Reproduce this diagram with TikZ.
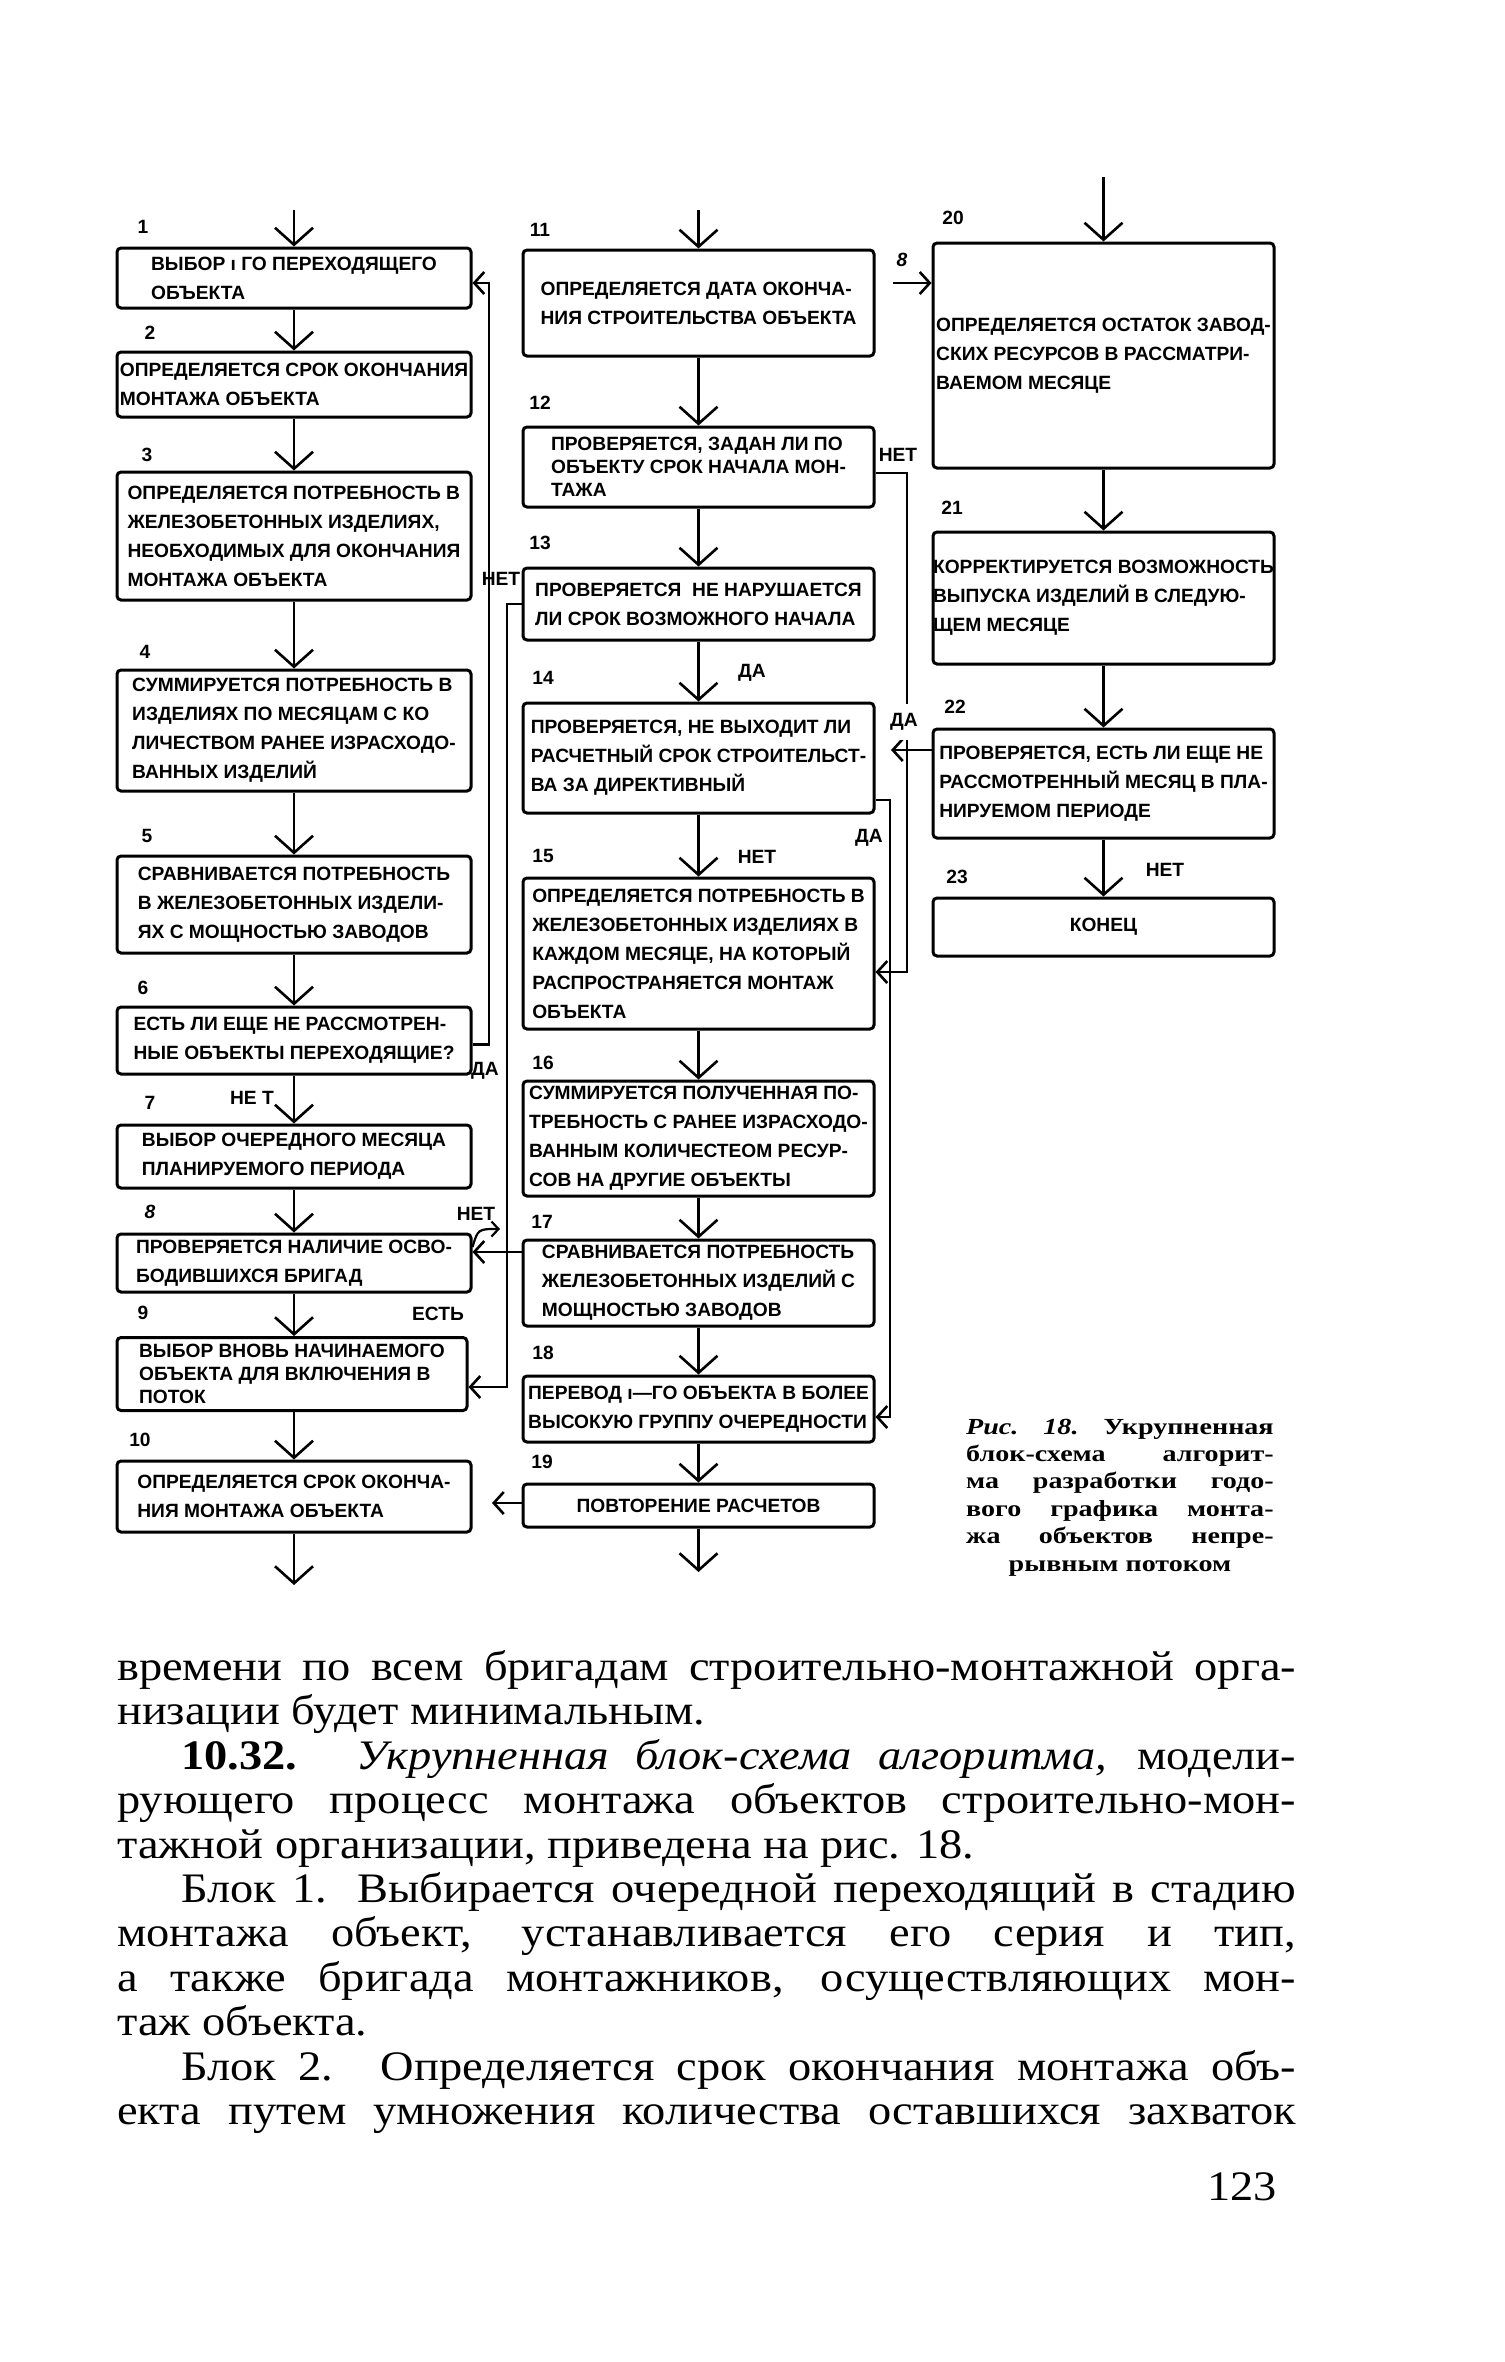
\documentclass[tikz,border=0pt]{standalone}
\usepackage{fontspec}
\usepackage{graphicx}
\setmainfont{Liberation Serif}
\newfontfamily\sansbf{Liberation Sans}
\usetikzlibrary{arrows.meta}
\newcommand\boxfnt{\sansbf\bfseries\fontsize{19.2}{29}\selectfont}
\newcommand\boxfnttight{\sansbf\bfseries\fontsize{19.2}{23}\selectfont}
\newcommand\bodyfnt{\fontsize{42}{44}\selectfont}
\newcommand\capfnt{\bfseries\fontsize{23}{27}\selectfont}
\newcommand\jl[2]{\scalebox{1.105}[1]{\makebox[#1][s]{#2}}}
\newcommand\nl[1]{\scalebox{1.105}[1]{#1}}
\newcommand\cj[1]{\scalebox{1.22}[1]{\makebox[252pt][s]{#1}}}
\begin{document}
\begin{tikzpicture}[x=1pt,y=-1pt,
  box/.style={draw, line width=3pt, rounded corners=4pt, align=left, inner sep=0pt, font=\boxfnt},
  num/.style={font=\boxfnt, inner sep=0pt},
  flow/.style={line width=2.6pt, -{Straight Barb[length=17pt,width=38pt,line width=2.6pt]}},
  side/.style={line width=2.6pt, -{Straight Barb[length=10pt,width=22pt,line width=2.6pt]}},
  bodytxt/.style={anchor=base west, inner sep=0pt, font=\bodyfnt},
  captxt/.style={anchor=base west, inner sep=0pt, font=\capfnt},
]
\fill[white] (0,0) rectangle (1505,2362);
\useasboundingbox (0,0) rectangle (1505,2362);

% ---------- left column ----------
\node[box, minimum width=354pt, minimum height=60pt] (b1) at (294,278) {ВЫБОР ı ГО ПЕРЕХОДЯЩЕГО\\ОБЪЕКТА};
\node[box, minimum width=354pt, minimum height=65pt] (b2) at (294,384.5) {ОПРЕДЕЛЯЕТСЯ СРОК ОКОНЧАНИЯ\\МОНТАЖА ОБЪЕКТА};
\node[box, minimum width=354pt, minimum height=128pt] (b3) at (294,536) {ОПРЕДЕЛЯЕТСЯ ПОТРЕБНОСТЬ В\\ЖЕЛЕЗОБЕТОННЫХ ИЗДЕЛИЯХ,\\НЕОБХОДИМЫХ ДЛЯ ОКОНЧАНИЯ\\МОНТАЖА ОБЪЕКТА};
\node[box, minimum width=354pt, minimum height=121pt] (b4) at (294,730.5) {СУММИРУЕТСЯ ПОТРЕБНОСТЬ В\\ИЗДЕЛИЯХ ПО МЕСЯЦАМ С КО\\ЛИЧЕСТВОМ РАНЕЕ ИЗРАСХОДО-\\ВАННЫХ ИЗДЕЛИЙ};
\node[box, minimum width=354pt, minimum height=97pt] (b5) at (294,904.5) {СРАВНИВАЕТСЯ ПОТРЕБНОСТЬ\\В ЖЕЛЕЗОБЕТОННЫХ ИЗДЕЛИ-\\ЯХ С МОЩНОСТЬЮ ЗАВОДОВ};
\node[box, minimum width=354pt, minimum height=67pt] (b6) at (294,1040.5) {ЕСТЬ ЛИ ЕЩЕ НЕ РАССМОТРЕН-\\НЫЕ ОБЪЕКТЫ ПЕРЕХОДЯЩИЕ?};
\node[box, minimum width=354pt, minimum height=63pt] (b7) at (294,1156.5) {ВЫБОР ОЧЕРЕДНОГО МЕСЯЦА\\ПЛАНИРУЕМОГО ПЕРИОДА};
\node[box, minimum width=354pt, minimum height=58pt] (b8) at (294,1263) {ПРОВЕРЯЕТСЯ НАЛИЧИЕ ОСВО-\\БОДИВШИХСЯ БРИГАД};
\node[box, font=\boxfnttight, minimum width=350pt, minimum height=73pt] (b9) at (292,1374) {ВЫБОР ВНОВЬ НАЧИНАЕМОГО\\ОБЪЕКТА ДЛЯ ВКЛЮЧЕНИЯ В\\ПОТОК};
\node[box, minimum width=354pt, minimum height=71pt] (b10) at (294,1496.5) {ОПРЕДЕЛЯЕТСЯ СРОК ОКОНЧА-\\НИЯ МОНТАЖА ОБЪЕКТА};

% ---------- middle column ----------
\node[box, minimum width=351pt, minimum height=106pt] (b11) at (698.5,303) {ОПРЕДЕЛЯЕТСЯ ДАТА ОКОНЧА-\\НИЯ СТРОИТЕЛЬСТВА ОБЪЕКТА};
\node[box, font=\boxfnttight, minimum width=351pt, minimum height=80pt] (b12) at (698.5,467) {ПРОВЕРЯЕТСЯ, ЗАДАН ЛИ ПО\\ОБЪЕКТУ СРОК НАЧАЛА МОН-\\ТАЖА};
\node[box, minimum width=351pt, minimum height=72pt] (b13) at (698.5,604) {ПРОВЕРЯЕТСЯ \ НЕ НАРУШАЕТСЯ\\ЛИ СРОК ВОЗМОЖНОГО НАЧАЛА};
\node[box, minimum width=351pt, minimum height=110pt] (b14) at (698.5,758) {ПРОВЕРЯЕТСЯ, НЕ ВЫХОДИТ ЛИ\\РАСЧЕТНЫЙ СРОК СТРОИТЕЛЬСТ-\\ВА ЗА ДИРЕКТИВНЫЙ};
\node[box, minimum width=351pt, minimum height=151pt] (b15) at (698.5,953.5) {ОПРЕДЕЛЯЕТСЯ ПОТРЕБНОСТЬ В\\ЖЕЛЕЗОБЕТОННЫХ ИЗДЕЛИЯХ В\\КАЖДОМ МЕСЯЦЕ, НА КОТОРЫЙ\\РАСПРОСТРАНЯЕТСЯ МОНТАЖ\\ОБЪЕКТА};
\node[box, minimum width=351pt, minimum height=115pt] (b16) at (698.5,1138.5) {СУММИРУЕТСЯ ПОЛУЧЕННАЯ ПО-\\ТРЕБНОСТЬ С РАНЕЕ ИЗРАСХОДО-\\ВАННЫМ КОЛИЧЕСТЕОМ РЕСУР-\\СОВ НА ДРУГИЕ ОБЪЕКТЫ};
\node[box, minimum width=351pt, minimum height=86pt] (b17) at (698.5,1283) {СРАВНИВАЕТСЯ ПОТРЕБНОСТЬ\\ЖЕЛЕЗОБЕТОННЫХ ИЗДЕЛИЙ С\\МОЩНОСТЬЮ ЗАВОДОВ};
\node[box, minimum width=351pt, minimum height=66pt] (b18) at (698.5,1409) {ПЕРЕВОД ı—ГО ОБЪЕКТА В БОЛЕЕ\\ВЫСОКУЮ ГРУППУ ОЧЕРЕДНОСТИ};
\node[box, minimum width=351pt, minimum height=43pt] (b19) at (698.5,1505.5) {ПОВТОРЕНИЕ РАСЧЕТОВ};

% ---------- right column ----------
\node[box, minimum width=341pt, minimum height=225pt] (b20) at (1103.5,355.5) {ОПРЕДЕЛЯЕТСЯ ОСТАТОК ЗАВОД-\\СКИХ РЕСУРСОВ В РАССМАТРИ-\\ВАЕМОМ МЕСЯЦЕ};
\node[box, minimum width=341pt, minimum height=132pt] (b21) at (1103.5,598) {КОРРЕКТИРУЕТСЯ ВОЗМОЖНОСТЬ\\ВЫПУСКА ИЗДЕЛИЙ В СЛЕДУЮ-\\ЩЕМ МЕСЯЦЕ};
\node[box, minimum width=341pt, minimum height=109pt] (b22) at (1103.5,783.5) {ПРОВЕРЯЕТСЯ, ЕСТЬ ЛИ ЕЩЕ НЕ\\РАССМОТРЕННЫЙ МЕСЯЦ В ПЛА-\\НИРУЕМОМ ПЕРИОДЕ};
\node[box, minimum width=341pt, minimum height=58pt] (b23) at (1103.5,927) {КОНЕЦ};

% ---------- main flow arrows ----------
\coordinate (s1) at (294,210);
\coordinate (s11) at (698.5,210);
\coordinate (s20) at (1103.5,177);
\coordinate (e10) at (294,1585);
\coordinate (e19) at (698.5,1572);
\draw[flow] (s1) -- (b1.north);
\draw[flow] (b1.south) -- (b2.north);
\draw[flow] (b2.south) -- (b3.north);
\draw[flow] (b3.south) -- (b4.north);
\draw[flow] (b4.south) -- (b5.north);
\draw[flow] (b5.south) -- (b6.north);
\draw[flow] (b6.south) -- (b7.north);
\draw[flow] (b7.south) -- (b8.north);
\draw[flow] (b8.south) -- (b8.south |- b9.north);
\draw[flow] (b8.south |- b9.south) -- (b10.north);
\draw[flow] (b10.south) -- (e10);
\draw[flow] (s11) -- (b11.north);
\draw[flow] (b11.south) -- (b12.north);
\draw[flow] (b12.south) -- (b13.north);
\draw[flow] (b13.south) -- (b14.north);
\draw[flow] (b14.south) -- (b15.north);
\draw[flow] (b15.south) -- (b16.north);
\draw[flow] (b16.south) -- (b17.north);
\draw[flow] (b17.south) -- (b18.north);
\draw[flow] (b18.south) -- (b19.north);
\draw[flow] (b19.south) -- (e19);
\draw[flow] (s20) -- (b20.north);
\draw[flow] (b20.south) -- (b21.north);
\draw[flow] (b21.south) -- (b22.north);
\draw[flow] (b22.south) -- (b23.north);

% ---------- side connectors ----------
\coordinate (k6) at (489,0);
\coordinate (p6) at ([yshift=-4pt]b6.east);
\coordinate (q1) at ([yshift=-5pt]b1.east);
\draw[side] (p6) -- (p6 -| k6) |- (q1);

\coordinate (k13) at (507,0);
\coordinate (q9) at ([yshift=-13pt]b9.east);
\draw[side] (b13.west) -- (b13.west -| k13) |- (q9);

\coordinate (p17) at ([yshift=31pt]b17.west);
\draw[side] (p17) -- (p17 -| b8.east);

\coordinate (h8) at ([yshift=16pt]b8.east);
\coordinate (h8e) at (500,1229);
\draw[line width=2.2pt, -{Straight Barb[length=7pt,width=15pt,line width=2.2pt]}] (h8) .. controls (478,1229) .. (h8e);

\coordinate (k12) at (907,0);
\coordinate (p12) at ([yshift=-6pt]b12.east);
\coordinate (q15) at ([yshift=-18.5pt]b15.east);
\draw[side] (p12) -- (p12 -| k12) |- (q15);

\coordinate (k14) at (890,0);
\coordinate (p14) at ([yshift=-42pt]b14.east);
\coordinate (q18) at ([yshift=-8pt]b18.east);
\draw[side] (p14) -- (p14 -| k14) |- (q18);

\coordinate (p22) at ([yshift=33.5pt]b22.west);
\coordinate (t22) at (891,750);
\draw[side] (p22) -- (t22);

\coordinate (s8) at (893,283);
\draw[side] (s8) -- (s8 -| b20.west);

\coordinate (t19) at (492,1503);
\draw[side] (t19 -| b19.west) -- (t19);

% ---------- labels ----------
\node[num] (n1) at (143,227) {1};
\node[num] (n2) at (150,333) {2};
\node[num] (n3) at (147,455) {3};
\node[num] (n4) at (145,652) {4};
\node[num] (n5) at (147,836) {5};
\node[num] (n6) at (143,988) {6};
\node[num] (n7) at (150,1103) {7};
\node[num] (n8) at (150,1212) {\itshape 8};
\node[num] (n9) at (143,1313) {9};
\node[num] (n10) at (140,1440) {10};
\node[num] (lnet7) at (252,1098) {НЕ Т};
\node[num] (lnet8) at (476,1214) {НЕТ};
\node[num] (lest) at (438,1314) {ЕСТЬ};
\node[num] (lnet13) at (501,579) {НЕТ};
\node[num] (lda6) at (485,1071) {ДА};
\node[num] (n11) at (540,230) {11};
\node[num] (n12) at (540,403) {12};
\node[num] (n13) at (540,543) {13};
\node[num] (n14) at (543,678) {14};
\node[num] (n15) at (543,856) {15};
\node[num] (n16) at (543,1063) {16};
\node[num] (n17) at (542,1222) {17};
\node[num] (n18) at (543,1353) {18};
\node[num] (n19) at (542,1462) {19};
\node[num] (lda13) at (752,673) {ДА};
\node[num] (lnet14) at (757,857) {НЕТ};
\node[num] (l8) at (902,260) {\itshape 8};
\node[num] (lnet12) at (898,455) {НЕТ};
\node[num, fill=white, inner ysep=9pt, inner xsep=1pt] (lda22) at (904,722) {ДА};
\node[num] (lda14) at (869,838) {ДА};
\node[num] (n20) at (953,218) {20};
\node[num] (n21) at (952,508) {21};
\node[num] (n22) at (955,707) {22};
\node[num] (n23) at (957,877) {23};
\node[num] (lnet22) at (1165,870) {НЕТ};

% ---------- caption ----------
\node[captxt] (c1) at (966,1434) {\cj{\textit{Рис. 18.} Укрупненная}};
\node[captxt] (c2) at (966,1461) {\cj{блок-схема алгорит-}};
\node[captxt] (c3) at (966,1488) {\cj{ма разработки годо-}};
\node[captxt] (c4) at (966,1516) {\cj{вого графика монта-}};
\node[captxt] (c5) at (966,1543) {\cj{жа объектов непре-}};
\node[captxt, anchor=base] (c6) at (1120,1571) {\scalebox{1.22}[1]{рывным потоком}};

% ---------- body text ----------
\node[bodytxt] (t1) at (117,1680) {\jl{1067pt}{времени по всем бригадам строительно-монтажной орга-}};
\node[bodytxt] (t2) at (117,1724) {\nl{низации будет минимальным.}};
\node[bodytxt] (t3) at (181,1769) {\jl{1009pt}{\textbf{10.32.} \textit{Укрупненная блок-схема алгоритма,} модели-}};
\node[bodytxt] (t4) at (117,1813) {\jl{1067pt}{рующего процесс монтажа объектов строительно-мон-}};
\node[bodytxt] (t5) at (117,1858) {\nl{тажной организации, приведена на рис. 18.}};
\node[bodytxt] (t6) at (181,1902) {\jl{1009pt}{Блок 1. Выбирается очередной переходящий в стадию}};
\node[bodytxt] (t7) at (117,1946) {\jl{1067pt}{монтажа объект, устанавливается его серия и тип,}};
\node[bodytxt] (t8) at (117,1991) {\jl{1067pt}{а также бригада монтажников, осуществляющих мон-}};
\node[bodytxt] (t9) at (117,2035) {\nl{таж объекта.}};
\node[bodytxt] (t10) at (181,2080) {\jl{1009pt}{Блок 2. Определяется срок окончания монтажа объ-}};
\node[bodytxt] (t11) at (117,2124) {\jl{1067pt}{екта путем умножения количества оставшихся захваток}};
\node[bodytxt, anchor=base east] (pg) at (1277,2200) {\nl{123}};
\end{tikzpicture}
\end{document}
